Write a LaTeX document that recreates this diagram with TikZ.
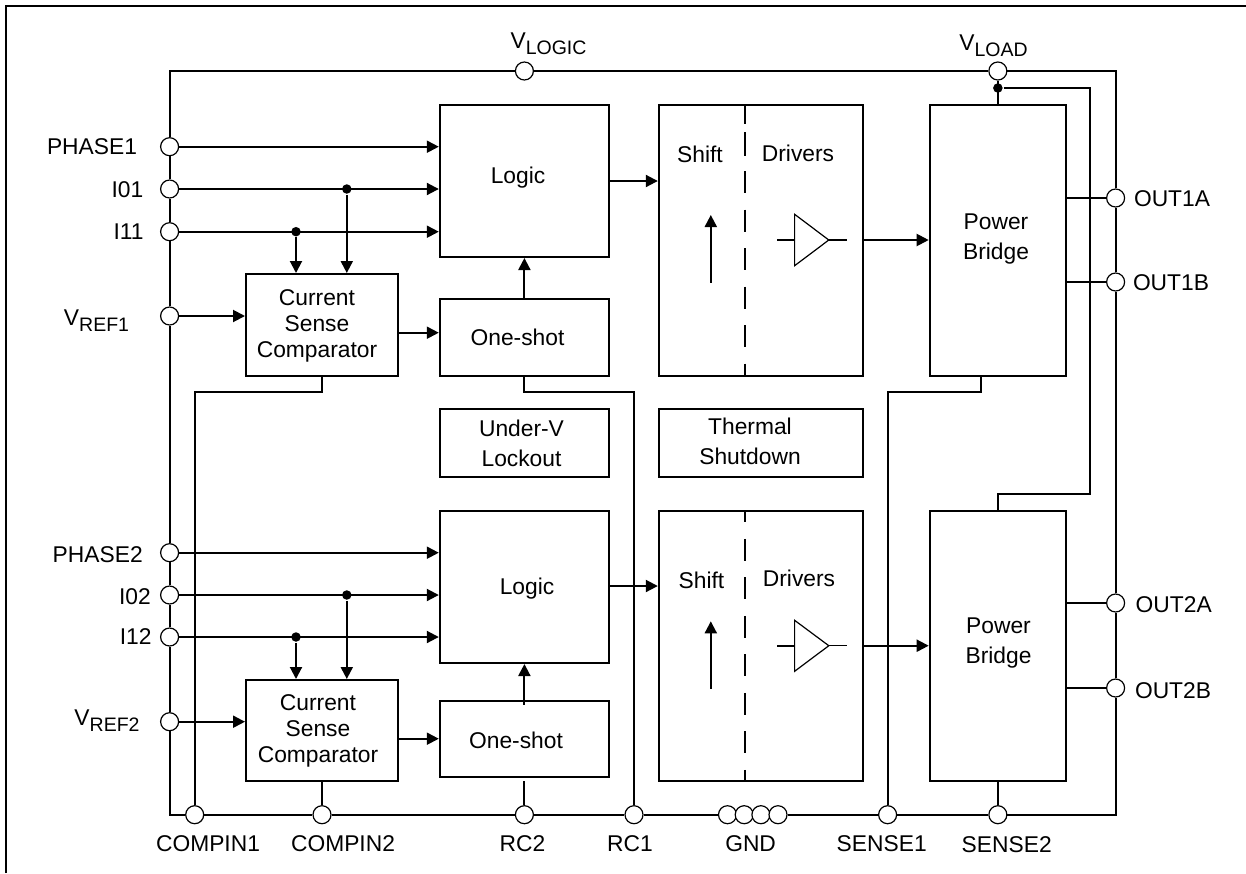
\documentclass[tikz,border=0pt]{standalone}
\usepackage{fontspec}
\setmainfont{Liberation Sans}
\usetikzlibrary{arrows.meta}
\newcommand{\vsub}[1]{V\raisebox{-6pt}{\fontsize{19.5}{20}\selectfont #1}}
\begin{document}
\begin{tikzpicture}[x=1pt,y=-1pt,line width=2pt,>={Triangle[length=12pt,width=12pt]},
    box/.style={draw,rectangle,inner sep=0pt},
    logicbox/.style={box,minimum width=169.2pt,minimum height=152.3pt},
    compbox/.style={box,minimum width=152pt},
    shotbox/.style={box,minimum width=169.2pt},
    noticebox/.style={box,minimum height=68.3pt},
    shiftbox/.style={box,minimum width=204.6pt},
    bridgebox/.style={box,minimum width=136.3pt},
    pin/.style={draw,circle,fill=white,line width=1.2pt,inner sep=0pt,minimum size=18pt},
    joint/.style={circle,fill=black,inner sep=0pt,minimum size=9.5pt},
    txt/.style={inner sep=0pt,font=\fontsize{22.8}{26}\selectfont,text height=16.5pt,text depth=0pt},
    txtm/.style={inner sep=0pt,align=center,font=\fontsize{22.8}{30}\selectfont},
    txtc/.style={inner sep=0pt,align=center,font=\fontsize{22.8}{26}\selectfont},
    slimline/.style={line width=1.2pt}]
    \useasboundingbox(0,0)rectangle(1246,873);
    \draw[line width=2.2pt](6,873)--(6,6)--(1246,6);

    \node[logicbox](logicA)at(524.4,180.85){};
    \node[logicbox](logicB)at(524.4,586.85){};
    \node[compbox,minimum height=102pt](compA)at(322,325){};
    \node[compbox,minimum height=101pt](compB)at(322,730.5){};
    \node[shotbox,minimum height=77pt](shotA)at(524.4,337.5){};
    \node[shotbox,minimum height=76.3pt](shotB)at(524.4,738.85){};
    \node[noticebox,minimum width=169.2pt](lockout)at(524.4,442.85){};
    \node[noticebox,minimum width=204.6pt](thermal)at(761.1,442.85){};
    \node[shiftbox,minimum height=271.3pt](shiftA)at(761.1,240.35){};
    \node[shiftbox,minimum height=270pt](shiftB)at(761.1,645.7){};
    \node[bridgebox,minimum height=271.3pt](bridgeA)at(997.85,240.35){};
    \node[bridgebox,minimum height=270pt](bridgeB)at(997.85,645.7){};

    \node[pin](vlogic)at(524.4,71){};
    \node[pin](vload)at(997.85,71){};
    \node[pin](phaseA)at(169.6,146.7){};
    \node[pin](ioA)at(169.6,189){};
    \node[pin](iaA)at(169.6,231.7){};
    \node[pin](vrefA)at(169.6,316){};
    \node[pin](phaseB)at(169.6,552.7){};
    \node[pin](ioB)at(169.6,595){};
    \node[pin](iaB)at(169.6,637){};
    \node[pin](vrefB)at(169.6,721.7){};
    \node[pin](compinA)at(194.7,814.7){};
    \node[pin](compinB)at(322,814.7){};
    \node[pin](rcB)at(524.4,814.7){};
    \node[pin](rcA)at(634,814.7){};
    \node[pin](senseA)at(887.6,814.7){};
    \node[pin](senseB)at(997.85,814.7){};
    \node[pin](outAA)at(1115.6,198){};
    \node[pin](outAB)at(1115.6,282){};
    \node[pin](outBA)at(1115.6,603){};
    \node[pin](outBB)at(1115.6,688){};

    \node[joint](tapLoad)at(997.85,88){};
    \node[joint](tapIoA)at(346.8,189){};
    \node[joint](tapIaA)at(296,231.7){};
    \node[joint](tapIoB)at(346.8,595){};
    \node[joint](tapIaB)at(296,637){};

    \coordinate(railB)at(1090,493.7);
    \coordinate(bendCompA)at(322,391.7);
    \coordinate(bendShotA)at(524.4,391.7);
    \coordinate(bendBridgeA)at(981,391.7);
    \coordinate(dashA)at(745,104.7);
    \coordinate(dashB)at(745,510.7);
    \coordinate(levelAa)at(710.8,282.7);
    \coordinate(levelAb)at(710.8,215);
    \coordinate(levelBa)at(710.8,688.7);
    \coordinate(levelBb)at(710.8,621.3);
    \coordinate(driveA)at(828.8,240);
    \coordinate(driveB)at(828.8,645.7);
    \coordinate(logicOutA)at(609,181);
    \coordinate(logicOutB)at(609,586);
    \coordinate(compOutA)at(398,332.7);
    \coordinate(compOutB)at(398,738.7);

    \draw(phaseA)|-(vlogic);
    \draw(vlogic)--(vload);
    \draw(vload)-|(outAA);
    \draw(phaseA)--(ioA);
    \draw(ioA)--(iaA);
    \draw(iaA)--(vrefA);
    \draw(vrefA)--(phaseB);
    \draw(phaseB)--(ioB);
    \draw(ioB)--(iaB);
    \draw(iaB)--(vrefB);
    \draw(vrefB)|-(compinA);
    \draw(compinA)--(compinB);
    \draw(compinB)--(rcB);
    \draw(rcB)--(rcA);
    \draw(outAA)--(outAB);
    \draw(outAB)--(outBA);
    \draw(outBA)--(outBB);
    \draw(outBB)|-(senseB);
    \draw(senseB)--(senseA);

    \draw[->](phaseA)--(logicA.west|-phaseA);
    \draw[->](ioA)--(logicA.west|-ioA);
    \draw[->](iaA)--(logicA.west|-iaA);
    \draw[->](vrefA)--(compA.west|-vrefA);
    \draw[->](tapIoA)--(compA.north-|tapIoA);
    \draw[->](tapIaA)--(compA.north-|tapIaA);
    \draw[->](compOutA)--(shotA.west|-compOutA);
    \draw[->](shotA.north)--(logicA.south);
    \draw[->](logicOutA)--(shiftA.west|-logicOutA);
    \draw[->](phaseB)--(logicB.west|-phaseB);
    \draw[->](ioB)--(logicB.west|-ioB);
    \draw[->](iaB)--(logicB.west|-iaB);
    \draw[->](vrefB)--(compB.west|-vrefB);
    \draw[->](tapIoB)--(compB.north-|tapIoB);
    \draw[->](tapIaB)--(compB.north-|tapIaB);
    \draw[->](compOutB)--(shotB.west|-compOutB);
    \draw[->]([yshift=-5pt]shotB.north)--(logicB.south);
    \draw[->](logicOutB)--(shiftB.west|-logicOutB);

    \draw(compA.south)--(bendCompA)-|(compinA);
    \draw(shotA.south)--(bendShotA)-|(rcA);
    \draw(bridgeA.south-|bendBridgeA)--(bendBridgeA)-|(senseA);
    \draw(compB.south)--(compinB);
    \draw([yshift=-3pt]shotB.south)--(rcB);
    \draw(bridgeB.south)--(senseB);
    \draw(vload)--(bridgeA.north);
    \draw(tapLoad)-|(railB)-|(bridgeB.north);

    \draw[dash pattern=on 19.3pt off 8.3pt on 23.7pt off 15pt on 22.3pt off 16.2pt on 22.3pt off 16.2pt on 22.3pt off 16.2pt on 22.3pt off 16.2pt on 22.3pt off 16.2pt](dashA)--(dashA|-shiftA.south);
    \draw[dash pattern=on 22pt off 16.5pt,dash phase=10.3pt](dashB)--(dashB|-shiftB.south);
    \draw[->](levelAa)--(levelAb);
    \draw[->](levelBa)--(levelBb);

    \draw[slimline](794.6,214.3)--(driveA)--(794.6,265.7)--cycle;
    \draw[line width=1.6pt](794.6,240)--(777,240);
    \draw[slimline](driveA)--(847,240);
    \draw[slimline](794.6,620.3)--(driveB)--(794.6,671.3)--cycle;
    \draw[line width=1.6pt](794.6,645.7)--(777,645.7);
    \draw[slimline](driveB)--(847,645.7);
    \draw[->](shiftA.east|-driveA)--(bridgeA.west|-driveA);
    \draw[->](shiftB.east|-driveB)--(bridgeB.west|-driveB);

    \draw(bridgeA.east|-outAA)--(outAA);
    \draw(bridgeA.east|-outAB)--(outAB);
    \draw(bridgeB.east|-outBA)--(outBA);
    \draw(bridgeB.east|-outBB)--(outBB);

    \draw(rcA)--(727.5,814.7);
    \node[pin](gndA)at(727.5,814.7){};
    \node[pin](gndB)at(744.2,814.7){};
    \node[pin](gndC)at(760.9,814.7){};
    \node[pin](gndD)at(778,814.7){};
    \draw(gndD)--(senseA);

    \node[txt](logicTextA)at(518,175){Logic};
    \node[txt](logicTextB)at(527,586){Logic};
    \node[txtc](compTextA)at(317,326){Current\\Sense\\Comparator};
    \node[txtc](compTextB)at(318,731){Current\\Sense\\Comparator};
    \node[txt](shotTextA)at(517.5,337.7){One-shot};
    \node[txt](shotTextB)at(516,740.7){One-shot};
    \node[txtm](lockoutText)at(521.5,443){Under-V\\Lockout};
    \node[txtm](thermalText)at(750,441){Thermal\\Shutdown};
    \node[txt](shiftTextA)at(700,154){Shift};
    \node[txt](driverTextA)at(798,153){Drivers};
    \node[txt](shiftTextB)at(701.5,580){Shift};
    \node[txt](driverTextB)at(799,578.7){Drivers};
    \node[txtm](bridgeTextA)at(996,239.5){Power\\Bridge};
    \node[txtm](bridgeTextB)at(998.5,643.5){Power\\Bridge};

    \node[txt](vlogicLabel)at(548.5,40){\vsub{LOGIC}};
    \node[txt](vloadLabel)at(993.5,42){\vsub{LOAD}};
    \node[txt](phaseLabelA)at(92,146){PHASE1};
    \node[txt](ioLabelA)at(127.5,189){I01};
    \node[txt](iaLabelA)at(128.5,231){I11};
    \node[txt](vrefLabelA)at(96.5,317){\vsub{REF1}};
    \node[txt](phaseLabelB)at(97.7,554){PHASE2};
    \node[txt](ioLabelB)at(135,596){I02};
    \node[txt](iaLabelB)at(135.6,636.7){I12};
    \node[txt](vrefLabelB)at(107,717){\vsub{REF2}};
    \node[txt](compinLabelA)at(208,843.7){COMPIN1};
    \node[txt](compinLabelB)at(343,843.7){COMPIN2};
    \node[txt](rcLabelB)at(522.5,843.7){RC2};
    \node[txt](rcLabelA)at(630,843.7){RC1};
    \node[txt](gndLabel)at(750.6,843.7){GND};
    \node[txt](senseLabelA)at(881.7,843.7){SENSE1};
    \node[txt](senseLabelB)at(1006.7,844){SENSE2};
    \node[txt](outLabelAA)at(1172,198.7){OUT1A};
    \node[txt](outLabelAB)at(1171,282.7){OUT1B};
    \node[txt](outLabelBA)at(1173.7,604){OUT2A};
    \node[txt](outLabelBB)at(1173,690.7){OUT2B};
\end{tikzpicture}
\end{document}
